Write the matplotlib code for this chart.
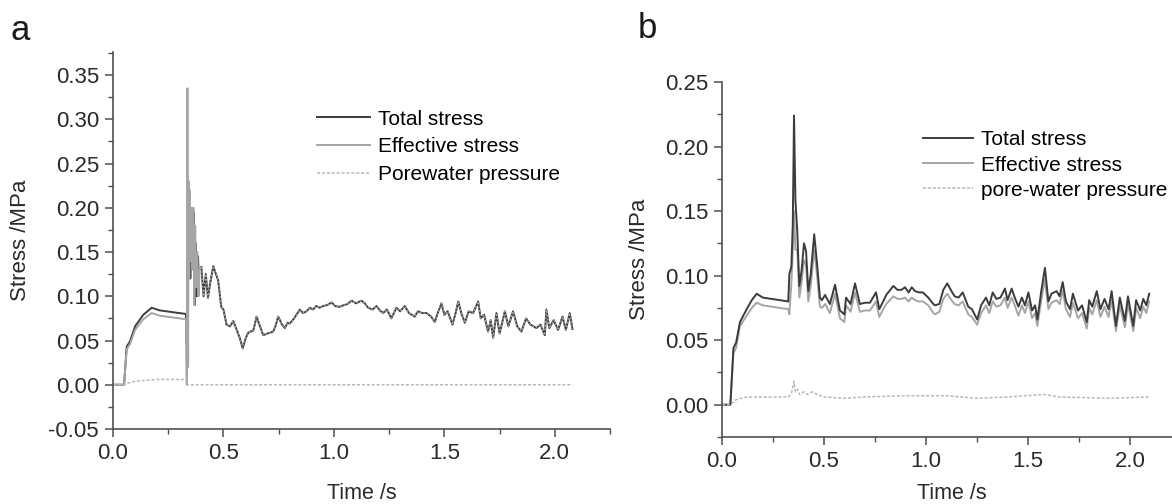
"""
Stress histories for the two impact tests (panels a and b).
"""

import matplotlib.pyplot as plt
from matplotlib.ticker import MultipleLocator, FormatStrFormatter

plt.rcParams["font.family"] = ["Liberation Sans", "DejaVu Sans"]

labels_a = ["Total stress", "Effective stress", "Porewater pressure"]
labels_b = ["Total stress", "Effective stress", "pore-water pressure"]

# ---- panel a -------------------------------------------------------------
# early part (before the curves merge)
t_total_a = [0, 0.04, 0.05, 0.062, 0.077, 0.10, 0.137, 0.175, 0.212, 0.33,
             0.334, 0.336, 0.338, 0.340, 0.343, 0.346, 0.350, 0.355, 0.360,
             0.365, 0.370, 0.375, 0.380, 0.385, 0.390]
total_a = [0, 0, 0, 0.043, 0.049, 0.066, 0.079, 0.087, 0.084, 0.080,
           0.048, 0.110, 0.060, 0.231, 0.130, 0.200, 0.120, 0.190, 0.140,
           0.195, 0.090, 0.160, 0.100, 0.145, 0.110]

t_eff_a = [0, 0.04, 0.05, 0.062, 0.077, 0.10, 0.137, 0.175, 0.212, 0.33,
           0.334, 0.337, 0.340, 0.342, 0.345, 0.348, 0.352, 0.356, 0.360,
           0.364, 0.368, 0.372, 0.377, 0.382, 0.387, 0.392]
eff_a = [0, 0, 0, 0.040, 0.046, 0.062, 0.074, 0.081, 0.078, 0.074,
         0.0, 0.335, 0.020, 0.230, 0.120, 0.220, 0.140, 0.200, 0.130,
         0.200, 0.090, 0.180, 0.110, 0.150, 0.100, 0.130]

# after t = 0.4 s porewater pressure is zero, total == effective
t_tail_a = [0.40, 0.41, 0.42, 0.43, 0.44, 0.454, 0.466, 0.476, 0.49, 0.50,
            0.514, 0.53, 0.545, 0.56, 0.575, 0.587, 0.60, 0.61, 0.62, 0.635,
            0.65, 0.66, 0.68, 0.70, 0.725, 0.735, 0.748, 0.765, 0.778, 0.79,
            0.80, 0.82, 0.846, 0.86, 0.876, 0.891, 0.905, 0.921, 0.936, 0.951,
            0.97, 0.99, 1.005, 1.026, 1.045, 1.06, 1.08, 1.10, 1.125, 1.14,
            1.155, 1.175, 1.193, 1.208, 1.223, 1.24, 1.26, 1.283, 1.30, 1.321,
            1.34, 1.366, 1.38, 1.40, 1.42, 1.44, 1.457, 1.47, 1.487, 1.50,
            1.515, 1.537, 1.55, 1.563, 1.578, 1.593, 1.61, 1.63, 1.653, 1.665,
            1.68, 1.698, 1.71, 1.721, 1.736, 1.75, 1.762, 1.774, 1.79, 1.811,
            1.83, 1.849, 1.87, 1.89, 1.917, 1.935, 1.955, 1.962, 1.975, 1.995,
            2.015, 2.035, 2.05, 2.068, 2.08]
tail_a = [0.133, 0.100, 0.125, 0.098, 0.115, 0.134, 0.125, 0.118, 0.088, 0.085,
          0.068, 0.066, 0.072, 0.062, 0.052, 0.041, 0.052, 0.058, 0.060, 0.061,
          0.077, 0.070, 0.056, 0.058, 0.060, 0.066, 0.077, 0.068, 0.064, 0.070,
          0.069, 0.075, 0.085, 0.081, 0.083, 0.087, 0.085, 0.089, 0.087, 0.089,
          0.090, 0.093, 0.089, 0.088, 0.090, 0.091, 0.095, 0.092, 0.095, 0.092,
          0.087, 0.085, 0.089, 0.084, 0.081, 0.085, 0.075, 0.087, 0.083, 0.089,
          0.081, 0.077, 0.083, 0.081, 0.081, 0.077, 0.071, 0.081, 0.092, 0.079,
          0.083, 0.068, 0.080, 0.094, 0.080, 0.070, 0.083, 0.081, 0.094, 0.075,
          0.079, 0.060, 0.073, 0.053, 0.081, 0.058, 0.070, 0.083, 0.066, 0.083,
          0.066, 0.060, 0.075, 0.068, 0.064, 0.068, 0.056, 0.085, 0.064, 0.073,
          0.062, 0.077, 0.062, 0.081, 0.063]

t_pore_a = [0, 0.05, 0.07, 0.10, 0.15, 0.20, 0.333, 0.336, 2.08]
pore_a = [0, 0, 0.002, 0.004, 0.005, 0.006, 0.006, 0.0, 0.0]

# ---- panel b -------------------------------------------------------------
t_b = [0, 0.041, 0.056, 0.069, 0.088, 0.121, 0.146, 0.170, 0.20, 0.325,
       0.33, 0.34, 0.347, 0.353, 0.36, 0.369, 0.379, 0.39, 0.402, 0.412,
       0.423, 0.435, 0.452, 0.465, 0.48, 0.49, 0.505, 0.529, 0.554, 0.578,
       0.60, 0.608, 0.63, 0.652, 0.676, 0.70, 0.725, 0.755, 0.771, 0.79,
       0.805, 0.84, 0.86, 0.88, 0.897, 0.915, 0.93, 0.946, 0.965, 0.985,
       1.011, 1.036, 1.044, 1.065, 1.085, 1.104, 1.125, 1.14, 1.16, 1.18,
       1.207, 1.225, 1.251, 1.27, 1.294, 1.31, 1.327, 1.345, 1.365, 1.387,
       1.40, 1.42, 1.435, 1.453, 1.47, 1.485, 1.502, 1.52, 1.535, 1.546,
       1.565, 1.583, 1.60, 1.615, 1.64, 1.655, 1.67, 1.686, 1.706, 1.72,
       1.745, 1.765, 1.788, 1.80, 1.815, 1.837, 1.855, 1.875, 1.895, 1.91,
       1.931, 1.95, 1.975, 1.99, 2.016, 2.03, 2.05, 2.065, 2.08, 2.094]
total_b = [0, 0, 0.044, 0.048, 0.064, 0.074, 0.081, 0.086, 0.083, 0.080,
           0.101, 0.107, 0.140, 0.224, 0.158, 0.134, 0.092, 0.104, 0.125, 0.119,
           0.088, 0.101, 0.132, 0.111, 0.083, 0.081, 0.085, 0.078, 0.093, 0.073,
           0.070, 0.083, 0.078, 0.094, 0.078, 0.079, 0.079, 0.087, 0.074, 0.080,
           0.085, 0.092, 0.089, 0.089, 0.091, 0.087, 0.091, 0.088, 0.087, 0.087,
           0.083, 0.078, 0.077, 0.078, 0.089, 0.094, 0.088, 0.084, 0.083, 0.087,
           0.076, 0.074, 0.066, 0.077, 0.083, 0.077, 0.087, 0.082, 0.083, 0.090,
           0.081, 0.090, 0.083, 0.076, 0.083, 0.077, 0.087, 0.073, 0.077, 0.066,
           0.088, 0.106, 0.080, 0.086, 0.088, 0.084, 0.095, 0.080, 0.074, 0.086,
           0.073, 0.077, 0.064, 0.081, 0.076, 0.088, 0.074, 0.082, 0.074, 0.088,
           0.061, 0.083, 0.065, 0.084, 0.061, 0.081, 0.073, 0.082, 0.077, 0.086]
eff_b = [0, 0, 0.040, 0.044, 0.061, 0.069, 0.075, 0.079, 0.077, 0.074,
         0.070, 0.094, 0.120, 0.150, 0.120, 0.120, 0.083, 0.095, 0.112, 0.108,
         0.080, 0.092, 0.120, 0.102, 0.076, 0.075, 0.078, 0.071, 0.086, 0.067,
         0.064, 0.077, 0.072, 0.087, 0.072, 0.073, 0.073, 0.080, 0.068, 0.074,
         0.078, 0.084, 0.082, 0.082, 0.083, 0.080, 0.083, 0.081, 0.080, 0.080,
         0.077, 0.071, 0.070, 0.072, 0.082, 0.086, 0.081, 0.078, 0.077, 0.080,
         0.070, 0.068, 0.062, 0.071, 0.077, 0.071, 0.080, 0.076, 0.077, 0.083,
         0.075, 0.083, 0.077, 0.069, 0.077, 0.071, 0.080, 0.067, 0.071, 0.061,
         0.081, 0.097, 0.074, 0.079, 0.081, 0.078, 0.088, 0.074, 0.068, 0.079,
         0.067, 0.071, 0.059, 0.075, 0.070, 0.081, 0.068, 0.076, 0.068, 0.081,
         0.057, 0.077, 0.060, 0.078, 0.057, 0.075, 0.067, 0.076, 0.071, 0.080]

t_pore_b = [0, 0.041, 0.07, 0.12, 0.2, 0.325, 0.34, 0.353, 0.36, 0.37,
            0.38, 0.40, 0.42, 0.44, 0.48, 0.5, 0.6, 0.7, 0.9, 1.1,
            1.25, 1.4, 1.58, 1.65, 1.9, 2.094]
pore_b = [0, 0, 0.004, 0.006, 0.006, 0.006, 0.009, 0.018, 0.010, 0.012,
          0.008, 0.010, 0.008, 0.010, 0.007, 0.006, 0.005, 0.006, 0.007, 0.007,
          0.005, 0.006, 0.008, 0.006, 0.005, 0.006]

TOTAL_STYLE = dict(color="#3c3c3c", lw=1.4, ls="-")
EFF_STYLE = dict(color="#a5a5a5", lw=1.4, ls="-")
PORE_STYLE = dict(color="#b8b8b8", lw=1.1, ls=(0, (2, 1.2)))


def style_axes(ax, ylim, ymajor):
    """
    Origin-like axes: only left/bottom spines, outward ticks, one minor tick.
    """
    for side in ("top", "right"):
        ax.spines[side].set_visible(False)
    for side in ("left", "bottom"):
        ax.spines[side].set_color("#505050")
        ax.spines[side].set_linewidth(1.2)

    ax.set_xlim(0, 2.25)
    ax.set_ylim(*ylim)
    ax.xaxis.set_major_locator(MultipleLocator(0.5))
    ax.xaxis.set_minor_locator(MultipleLocator(0.25))
    ax.yaxis.set_major_locator(MultipleLocator(ymajor))
    ax.yaxis.set_minor_locator(MultipleLocator(ymajor / 2))
    ax.xaxis.set_major_formatter(FormatStrFormatter("%.1f"))
    ax.yaxis.set_major_formatter(FormatStrFormatter("%.2f"))

    ax.tick_params(which="major", direction="out", length=6, width=1.1,
                   color="#505050", labelsize=16, labelcolor="#2a2a2a", pad=4)
    ax.tick_params(which="minor", direction="out", length=3.5, width=1.0,
                   color="#505050")

    ax.set_xlabel("Time /s", fontsize=15.5, color="#2a2a2a")
    ax.set_ylabel("Stress /MPa", fontsize=16, color="#2a2a2a")


fig = plt.figure(figsize=(11.72, 5.04), dpi=100)

# panel a
ax_a = fig.add_axes([113 / 1172, 75 / 504, 497 / 1172, 377 / 504])
ax_a.plot(t_tail_a, tail_a, **TOTAL_STYLE)
ax_a.plot(t_total_a, total_a, label=labels_a[0], **TOTAL_STYLE)
ax_a.plot(t_eff_a, eff_a, label=labels_a[1], **EFF_STYLE)
ax_a.plot(t_tail_a, tail_a, color="#a5a5a5", lw=0.9, ls=(0, (1.5, 1.5)))
ax_a.plot(t_pore_a, pore_a, label=labels_a[2], **PORE_STYLE)
style_axes(ax_a, (-0.05, 0.376), 0.05)
ax_a.yaxis.set_label_coords(-0.165, 0.5)
ax_a.xaxis.set_label_coords(0.5, -0.142)
ax_a.legend(loc="upper left", bbox_to_anchor=(0.41, 0.847), frameon=False,
            fontsize=15, handlelength=2.55, handletextpad=0.4,
            labelspacing=0.42, borderpad=0, borderaxespad=0)

# panel b
ax_b = fig.add_axes([722 / 1172, 67 / 504, 459 / 1172, 355 / 504])
ax_b.plot(t_b, eff_b, label=labels_b[1], **EFF_STYLE)
ax_b.plot(t_b, total_b, label=labels_b[0], **TOTAL_STYLE)
ax_b.plot(t_pore_b, pore_b, label=labels_b[2], **PORE_STYLE)
style_axes(ax_b, (-0.025, 0.25), 0.05)
ax_b.yaxis.set_label_coords(-0.157, 0.5)
ax_b.xaxis.set_label_coords(0.5, -0.13)
handles, names = ax_b.get_legend_handles_labels()
ax_b.legend([handles[1], handles[0], handles[2]], [names[1], names[0], names[2]],
            loc="upper left", bbox_to_anchor=(0.438, 0.864), frameon=False,
            fontsize=15, handlelength=2.4, handletextpad=0.4,
            labelspacing=0.3, borderpad=0, borderaxespad=0)

fig.text(10 / 1172, 1 - 40 / 504, "a", fontsize=25, color="#1a1a1a")
fig.text(638 / 1172, 1 - 38 / 504, "b", fontsize=25, color="#1a1a1a")

fig.savefig("out.png", dpi=100)
